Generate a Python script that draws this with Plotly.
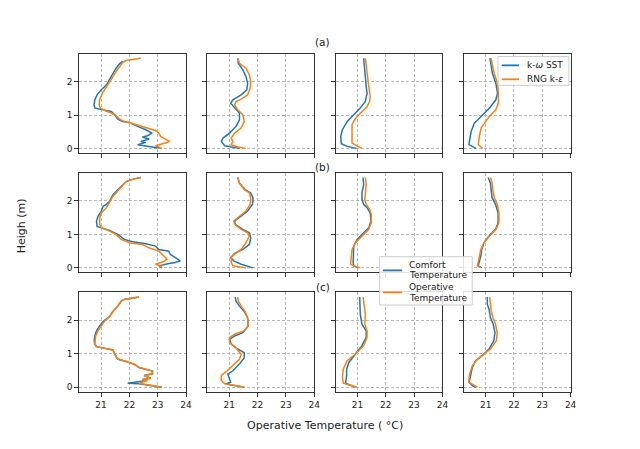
import plotly.graph_objects as go

# ---------------- data (temperature in degC, height in m) ----------------
# row (a)
a1_sst_T = [21.76,21.65,21.53,21.42,21.30,21.19,21.01,20.86,20.78,20.75,20.79,21.13,21.36,21.48,21.59,21.76,21.99,22.29,22.58,22.80,22.64,22.46,22.70,22.40,22.58,22.29,23.05]
a1_sst_z = [2.62,2.54,2.41,2.26,2.06,1.91,1.76,1.61,1.46,1.31,1.21,1.14,1.11,1.01,0.88,0.81,0.78,0.66,0.56,0.46,0.38,0.34,0.28,0.21,0.18,0.11,0.01]
a1_rng_T = [22.40,22.17,21.88,21.76,21.65,21.53,21.42,21.30,21.19,21.05,20.95,20.93,20.98,21.13,21.36,21.53,21.65,21.82,22.05,22.34,22.63,22.92,23.04,23.10,23.42,23.27,22.92,23.15]
a1_rng_z = [2.71,2.68,2.64,2.58,2.46,2.31,2.16,2.01,1.86,1.66,1.46,1.31,1.21,1.14,1.06,0.98,0.88,0.81,0.76,0.68,0.61,0.54,0.46,0.36,0.21,0.16,0.08,0.0]

a2_sst_T = [21.30,21.32,21.48,21.59,21.65,21.62,21.42,21.13,21.05,21.19,21.36,21.36,21.24,21.01,20.78,20.72,20.84,21.36]
a2_sst_z = [2.71,2.56,2.36,2.16,1.96,1.76,1.61,1.46,1.36,1.21,1.06,0.86,0.66,0.46,0.31,0.21,0.08,0.0]
a2_rng_T = [21.30,21.36,21.59,21.71,21.76,21.74,21.65,21.42,21.24,21.19,21.30,21.48,21.53,21.42,21.19,21.07,21.13,21.07,21.30,21.59]
a2_rng_z = [2.71,2.56,2.41,2.21,2.01,1.81,1.61,1.48,1.41,1.31,1.16,1.01,0.81,0.61,0.46,0.31,0.21,0.11,0.04,0.0]

a3_sst_T = [21.22,21.24,21.28,21.31,21.34,21.28,21.10,20.87,20.64,20.47,20.41,20.43,20.64,20.97]
a3_sst_z = [2.71,2.46,2.16,1.86,1.66,1.41,1.21,1.01,0.81,0.56,0.36,0.14,0.06,0.0]
a3_rng_T = [21.28,21.31,21.34,21.40,21.45,21.43,21.34,21.16,20.93,20.81,20.81,20.81,20.97,21.16]
a3_rng_z = [2.71,2.46,2.16,1.86,1.56,1.41,1.26,1.11,0.91,0.71,0.46,0.16,0.08,0.0]

a4_sst_T = [21.15,21.19,21.24,21.36,21.42,21.36,21.13,20.84,20.60,20.49,20.43,20.41,20.66]
a4_sst_z = [2.71,2.51,2.26,1.96,1.66,1.46,1.21,0.96,0.76,0.51,0.26,0.11,0.0]
a4_rng_T = [21.19,21.24,21.30,21.42,21.45,21.45,21.36,21.13,20.95,20.84,20.78,20.74,20.90]
a4_rng_z = [2.71,2.51,2.26,1.96,1.66,1.36,1.16,0.96,0.76,0.61,0.36,0.11,0.0]

# row (b)
b1_sst_T = [22.40,22.17,21.88,21.71,21.53,21.42,21.30,21.19,21.07,21.01,20.89,20.84,20.86,21.01,21.30,21.59,21.82,22.11,22.58,22.92,23.04,23.39,23.45,23.80,23.62,23.39,23.10,23.04,23.15]
b1_sst_z = [2.70,2.66,2.58,2.43,2.26,2.19,1.99,1.90,1.84,1.69,1.54,1.39,1.24,1.20,1.12,1.00,0.85,0.78,0.72,0.65,0.55,0.50,0.40,0.21,0.16,0.13,0.09,0.06,0.0]
b1_rng_T = [22.40,22.17,21.88,21.71,21.53,21.42,21.30,21.19,21.01,20.95,20.95,21.01,21.30,21.53,21.71,22.00,22.46,22.69,23.04,23.15,23.33,23.22,22.92,23.10,23.15]
b1_rng_z = [2.70,2.66,2.58,2.43,2.24,2.14,1.94,1.80,1.64,1.50,1.30,1.20,1.10,1.00,0.85,0.75,0.70,0.60,0.50,0.40,0.26,0.19,0.11,0.06,0.0]

b2_sst_T = [21.30,21.36,21.56,21.76,21.84,21.82,21.65,21.36,21.19,21.21,21.48,21.71,21.76,21.71,21.48,21.19,21.05,21.16,21.42,21.84]
b2_sst_z = [2.70,2.53,2.34,2.24,2.09,1.90,1.70,1.50,1.40,1.30,1.15,1.05,0.90,0.70,0.55,0.43,0.31,0.21,0.11,0.0]
b2_rng_T = [21.30,21.36,21.53,21.71,21.76,21.74,21.59,21.30,21.16,21.19,21.42,21.65,21.71,21.59,21.42,21.19,21.07,21.07,21.13,21.59]
b2_rng_z = [2.70,2.53,2.34,2.24,2.09,1.90,1.70,1.50,1.40,1.30,1.15,1.05,0.95,0.75,0.55,0.41,0.31,0.16,0.06,0.0]

b3_sst_T = [21.20,21.22,21.16,21.16,21.22,21.34,21.45,21.48,21.40,21.22,20.99,20.87,20.85,20.85,20.87,21.05]
b3_sst_z = [2.70,2.48,2.24,2.04,1.90,1.80,1.64,1.40,1.20,1.05,0.85,0.65,0.41,0.16,0.06,0.0]
b3_rng_T = [21.28,21.31,21.28,21.26,21.31,21.43,21.49,21.49,21.40,21.16,20.93,20.81,20.79,20.76,20.87,21.10]
b3_rng_z = [2.70,2.48,2.24,2.04,1.90,1.75,1.60,1.35,1.15,0.95,0.75,0.55,0.31,0.11,0.06,0.0]

b4_sst_T = [21.09,21.17,21.20,21.23,21.35,21.44,21.44,21.35,21.12,20.94,20.86,20.83,20.77,20.74,20.86]
b4_sst_z = [2.70,2.53,2.29,2.09,1.90,1.64,1.35,1.15,0.95,0.75,0.55,0.36,0.16,0.06,0.0]
b4_rng_T = [21.17,21.23,21.26,21.31,21.41,21.47,21.47,21.37,21.14,20.94,20.83,20.79,20.74,20.71,20.83]
b4_rng_z = [2.70,2.53,2.29,2.09,1.90,1.64,1.35,1.15,0.95,0.75,0.55,0.36,0.16,0.06,0.0]

# row (c)
c1_sst_T = [22.34,22.05,21.82,21.71,21.59,21.42,21.30,21.10,20.95,20.84,20.78,20.76,20.77,20.84,21.07,21.42,21.48,21.59,21.88,22.17,22.34,22.58,22.82,22.82,22.52,22.75,22.46,22.63,21.94,22.34,23.15]
c1_sst_z = [2.69,2.65,2.62,2.57,2.42,2.26,2.11,1.98,1.83,1.68,1.53,1.39,1.29,1.21,1.17,1.11,0.99,0.84,0.77,0.69,0.59,0.54,0.48,0.40,0.35,0.27,0.23,0.20,0.12,0.10,0.0]
c1_rng_T = [22.34,22.05,21.82,21.71,21.59,21.42,21.30,21.13,21.01,20.89,20.81,20.78,20.78,20.84,21.07,21.42,21.48,21.59,21.88,22.17,22.34,22.58,22.80,22.80,22.52,22.75,22.46,22.63,22.34,23.15]
c1_rng_z = [2.69,2.65,2.62,2.57,2.42,2.26,2.11,1.98,1.83,1.68,1.53,1.39,1.29,1.21,1.17,1.11,0.99,0.84,0.77,0.69,0.59,0.54,0.48,0.40,0.35,0.27,0.23,0.20,0.12,0.0]

c2_sst_T = [21.21,21.24,21.36,21.53,21.65,21.67,21.48,21.19,21.01,21.07,21.30,21.53,21.53,21.36,21.13,20.95,21.01,21.05,20.86,21.53]
c2_sst_z = [2.69,2.57,2.42,2.26,2.06,1.83,1.63,1.53,1.43,1.29,1.14,1.03,0.88,0.69,0.49,0.39,0.25,0.15,0.10,0.0]
c2_rng_T = [21.30,21.32,21.42,21.56,21.65,21.67,21.51,21.19,21.01,21.01,21.24,21.42,21.36,21.13,20.90,20.72,20.72,20.84,21.53]
c2_rng_z = [2.69,2.57,2.42,2.26,2.06,1.83,1.68,1.58,1.48,1.33,1.18,0.98,0.83,0.64,0.47,0.35,0.20,0.10,0.0]

c3_sst_T = [21.08,21.08,21.10,21.16,21.31,21.31,21.16,20.93,20.70,20.62,20.62,20.58,20.93]
c3_sst_z = [2.69,2.48,2.18,1.88,1.68,1.49,1.24,0.99,0.74,0.54,0.35,0.12,0.0]
c3_rng_T = [21.20,21.24,21.28,21.26,21.34,21.34,21.22,20.93,20.64,20.50,20.47,20.50,20.99]
c3_rng_z = [2.69,2.48,2.18,1.88,1.68,1.49,1.24,0.99,0.79,0.54,0.30,0.12,0.0]

c4_sst_T = [21.06,21.06,21.12,21.17,21.27,21.33,21.29,21.12,20.88,20.65,20.53,20.48,20.42,20.53,20.65]
c4_sst_z = [2.69,2.48,2.33,2.08,1.88,1.63,1.39,1.14,0.94,0.79,0.59,0.40,0.15,0.05,0.0]
c4_rng_T = [21.14,21.17,21.20,21.26,21.35,21.41,21.38,21.17,20.94,20.71,20.53,20.44,20.40,20.53,20.71]
c4_rng_z = [2.69,2.48,2.28,2.08,1.88,1.63,1.39,1.14,0.99,0.84,0.64,0.40,0.15,0.08,0.0]

row_titles = ["(a)", "(b)", "(c)"]
model_names = ["k-<i>ω</i> SST", "RNG k-<i>ε</i>"]
quantity_names = [["Comfort", "Temperature"], ["Operative", "Temperature"]]
x_ticks = [21, 22, 23, 24]
y_ticks = [0, 1, 2]
x_range = [20.23, 24.0]
y_range = [-0.135, 2.835]

panels = [
    [(a1_sst_T, a1_sst_z, a1_rng_T, a1_rng_z), (a2_sst_T, a2_sst_z, a2_rng_T, a2_rng_z),
     (a3_sst_T, a3_sst_z, a3_rng_T, a3_rng_z), (a4_sst_T, a4_sst_z, a4_rng_T, a4_rng_z)],
    [(b1_sst_T, b1_sst_z, b1_rng_T, b1_rng_z), (b2_sst_T, b2_sst_z, b2_rng_T, b2_rng_z),
     (b3_sst_T, b3_sst_z, b3_rng_T, b3_rng_z), (b4_sst_T, b4_sst_z, b4_rng_T, b4_rng_z)],
    [(c1_sst_T, c1_sst_z, c1_rng_T, c1_rng_z), (c2_sst_T, c2_sst_z, c2_rng_T, c2_rng_z),
     (c3_sst_T, c3_sst_z, c3_rng_T, c3_rng_z), (c4_sst_T, c4_sst_z, c4_rng_T, c4_rng_z)],
]

# ---------------- layout ----------------
W, H = 640, 449
BLUE, ORANGE = "#1f77b4", "#ff7f0e"
TXT = "#222222"
FONT = "DejaVu Sans"
col_px = [(80, 187.8), (209.4, 317.2), (338.8, 446.6), (468.2, 576)]
row_px = [(54.2, 153.2), (173.4, 273.0), (292.9, 392.6)]
title_y_px = [42, 167, 288]


def px(x):
    return x / W


def py(y):
    return 1 - y / H


fig = go.Figure()
layout = dict(
    width=W, height=H, margin=dict(l=0, r=0, t=0, b=0),
    paper_bgcolor="white", plot_bgcolor="white",
    font=dict(family=FONT, size=10, color=TXT),
    showlegend=False,
)
axis_common = dict(showline=True, mirror=True, linecolor="#333333", linewidth=1,
                   ticks="outside", ticklen=4, tickwidth=1, tickcolor="#333333",
                   showgrid=True, gridcolor="#b8b8b8", gridwidth=0.8, griddash="3px,2px",
                   zeroline=False, tickfont=dict(family=FONT, size=9, color=TXT))

for r in range(3):
    for c in range(4):
        n = r * 4 + c + 1
        xs = "" if n == 1 else str(n)
        sT, sz, rT, rz = panels[r][c]
        fig.add_trace(go.Scatter(x=sT, y=sz, mode="lines", line=dict(color=BLUE, width=1.5),
                                 xaxis="x" + xs, yaxis="y" + xs, name="k-ω SST"))
        fig.add_trace(go.Scatter(x=rT, y=rz, mode="lines", line=dict(color=ORANGE, width=1.5),
                                 xaxis="x" + xs, yaxis="y" + xs, name="RNG k-ε"))
        x0, x1 = col_px[c]
        y0, y1 = row_px[r]
        layout["xaxis" + xs] = dict(axis_common, domain=[px(x0), px(x1)], range=x_range,
                                    tickvals=x_ticks, showticklabels=(r == 2), anchor="y" + xs)
        layout["yaxis" + xs] = dict(axis_common, domain=[py(y1), py(y0)], range=y_range,
                                    tickvals=y_ticks, showticklabels=(c == 0), anchor="x" + xs)

shapes = []
ann = []
LEG_FONT = dict(family=FONT, size=9, color=TXT)


def legend_box(x0, y0, x1, y1):
    shapes.append(dict(type="rect", xref="paper", yref="paper", x0=px(x0), x1=px(x1), y0=py(y1), y1=py(y0),
                       fillcolor="rgba(255,255,255,0.85)", line=dict(color="#cccccc", width=1), layer="above"))


def legend_line(x0, x1, y, color):
    shapes.append(dict(type="line", xref="paper", yref="paper", x0=px(x0), x1=px(x1), y0=py(y), y1=py(y),
                       line=dict(color=color, width=1.8), layer="above"))


def legend_text(x, y, text):
    ann.append(dict(text=text, x=px(x), y=py(y), xref="paper", yref="paper", showarrow=False,
                    xanchor="left", yanchor="middle", font=LEG_FONT))


# legend 1 (turbulence models), inside the top-right panel
legend_box(502.7, 56.7, 574.3, 85.5)
legend_line(506.5, 524, 65.5, BLUE)
legend_text(530, 65.5, model_names[0])
legend_line(506.5, 524, 79.5, ORANGE)
legend_text(530, 79.5, model_names[1])

# legend 2 (quantities), in the middle of the figure
legend_box(383.3, 257.3, 476.7, 305.7)
legend_line(386.5, 406, 271, BLUE)
legend_text(411, 265.2, quantity_names[0][0])
legend_text(411, 275.8, quantity_names[0][1])
legend_line(386.5, 406, 293, ORANGE)
legend_text(411, 287.8, quantity_names[1][0])
legend_text(411, 298.4, quantity_names[1][1])

cx = (80 + 576) / 2 / W
for r in range(3):
    ann.append(dict(text=row_titles[r], x=cx - 2 / W, y=py(title_y_px[r]), xref="paper", yref="paper",
                    showarrow=False, xanchor="center", yanchor="middle", font=dict(size=10.5, color=TXT)))
ann.append(dict(text="Operative Temperature ( °C)", x=cx, y=py(426), xref="paper", yref="paper",
                showarrow=False, xanchor="center", yanchor="middle", font=dict(size=11, color=TXT)))
ann.append(dict(text="Heigh (m)", x=px(22), y=py(226), xref="paper", yref="paper", textangle=-90,
                showarrow=False, xanchor="center", yanchor="middle", font=dict(size=11, color=TXT)))
layout["annotations"] = ann
layout["shapes"] = shapes

fig.update_layout(**layout)
fig.write_html("out.html", config={"displayModeBar": False},
               post_script="document.body.style.margin='0px';document.body.style.overflow='hidden';")
